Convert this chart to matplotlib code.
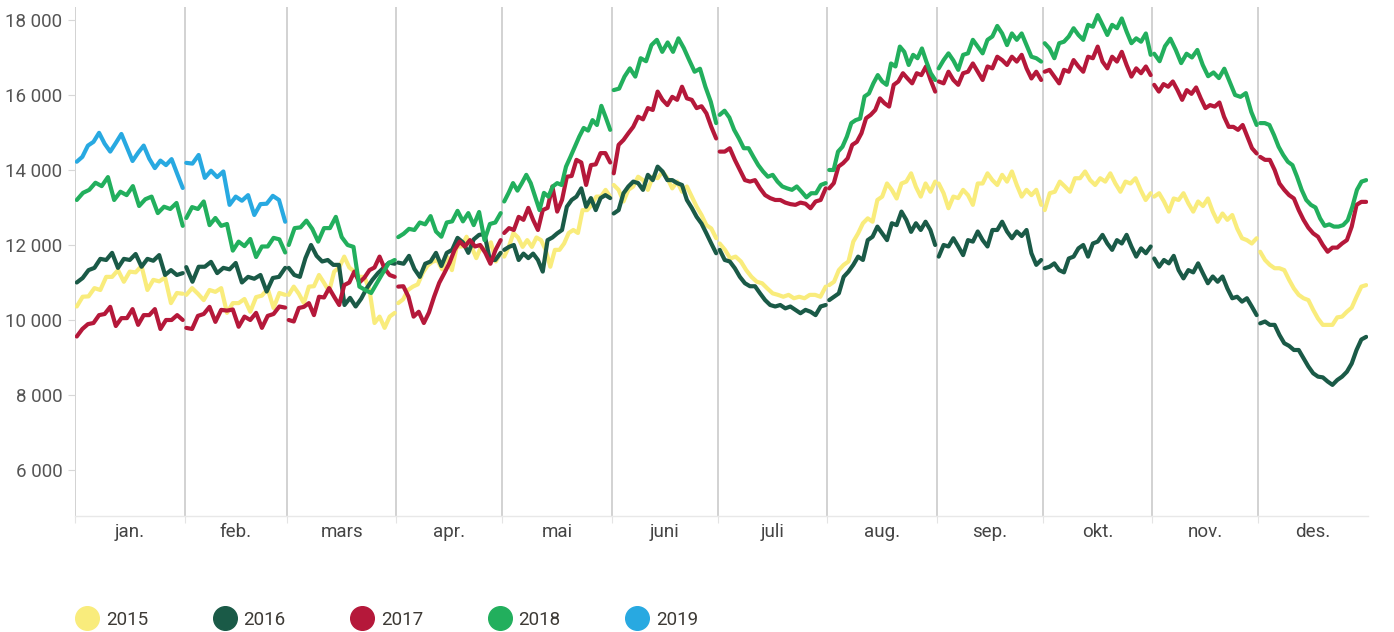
import numpy as np
import matplotlib
matplotlib.use('Agg')
import matplotlib.pyplot as plt
from matplotlib.lines import Line2D

plt.rcParams['font.family'] = ['Roboto', 'DejaVu Sans']

months = ['jan.', 'feb.', 'mars', 'apr.', 'mai', 'juni', 'juli', 'aug.',
          'sep.', 'okt.', 'nov.', 'des.']
month_days = [31, 29, 31, 30, 31, 30, 31, 31, 30, 31, 30, 31]
years = ['2015', '2016', '2017', '2018', '2019']
colors = ['#F9EC7C', '#1A5A47', '#B5183A', '#22AF5D', '#28A9E1']
yticks = [6000, 8000, 10000, 12000, 14000, 16000, 18000]

# values in thousands, one list per month
y2015 = [
    [10.36, 10.62, 10.63, 10.85, 10.8, 11.15, 11.15, 11.33, 11.02, 11.29, 11.27, 11.44, 10.8, 11.07, 11.03, 11.13, 10.45, 10.72, 10.7],
    [10.67, 10.85, 10.7, 10.53, 10.8, 10.75, 10.85, 10.19, 10.45, 10.45, 10.56, 10.22, 10.61, 10.65, 10.83, 10.32, 10.72, 10.67],
    [10.67, 10.89, 10.7, 10.45, 10.89, 10.9, 11.2, 10.99, 10.76, 11.29, 11.4, 11.69, 11.4, 11.29, 11.15, 11.15, 10.8, 9.92, 10.09, 9.79, 10.09, 10.19],
    [10.45, 10.55, 10.8, 10.89, 10.95, 11.25, 11.45, 11.55, 11.6, 11.35, 11.69, 11.33, 11.96, 11.96, 12.22, 11.96, 11.65, 11.96, 11.85, 12.07, 11.56, 11.79],
    [11.69, 11.95, 12.32, 12.2, 11.95, 12.13, 11.95, 12.2, 12.13, 11.87, 11.42, 11.87, 11.87, 12.04, 12.32, 12.4, 12.32, 12.93, 12.93, 13.07, 13.29, 13.29, 13.47, 13.29],
    [13.6, 13.47, 13.16, 13.47, 13.56, 13.82, 13.73, 13.47, 13.82, 13.78, 13.96, 13.78, 13.51, 13.69, 13.42, 13.56, 13.29, 13.02, 12.8, 12.53, 12.44, 12.18],
    [12.04, 11.87, 11.64, 11.69, 11.56, 11.33, 11.15, 11.02, 10.98, 10.84, 10.71, 10.67, 10.62, 10.67, 10.58, 10.62, 10.58, 10.67, 10.67, 10.62, 10.89],
    [10.93, 11.02, 11.33, 11.47, 11.56, 12.09, 12.31, 12.58, 12.71, 12.62, 13.2, 13.29, 13.64, 13.47, 13.24, 13.64, 13.69, 13.91, 13.55, 13.29, 13.64, 13.42, 13.69],
    [13.64, 13.38, 12.98, 13.29, 13.25, 13.47, 13.33, 13.07, 13.64, 13.64, 13.91, 13.73, 13.6, 13.87, 13.69, 13.96, 13.6, 13.29, 13.47, 13.33, 13.47, 13.07],
    [12.93, 13.38, 13.42, 13.69, 13.56, 13.42, 13.78, 13.78, 13.96, 13.73, 13.6, 13.78, 13.69, 13.91, 13.64, 13.42, 13.69, 13.64, 13.78, 13.47, 13.2, 13.38],
    [13.29, 13.38, 13.16, 12.89, 13.24, 13.2, 13.38, 13.11, 12.89, 13.16, 13.04, 13.24, 12.89, 12.62, 12.84, 12.67, 12.8, 12.44, 12.18, 12.13, 12.04, 12.18],
    [11.82, 11.6, 11.47, 11.38, 11.38, 11.33, 11.07, 10.84, 10.67, 10.58, 10.53, 10.27, 10.04, 9.87, 9.87, 9.87, 10.07, 10.09, 10.22, 10.33, 10.62, 10.89, 10.93],
]
y2016 = [
    [11.0, 11.12, 11.33, 11.39, 11.63, 11.6, 11.79, 11.39, 11.63, 11.6, 11.76, 11.42, 11.63, 11.58, 11.73, 11.2, 11.33, 11.2, 11.25],
    [11.41, 11.02, 11.42, 11.42, 11.55, 11.25, 11.39, 11.35, 11.52, 11.0, 11.15, 11.1, 11.2, 10.76, 11.12, 11.15, 11.39],
    [11.39, 11.2, 11.15, 11.65, 12.0, 11.71, 11.56, 11.6, 11.47, 11.47, 10.4, 10.59, 10.36, 10.57, 10.85, 11.07, 11.25, 11.39, 11.53, 11.5],
    [11.53, 11.5, 11.71, 11.36, 11.15, 11.5, 11.56, 11.79, 11.44, 11.79, 11.87, 12.19, 12.07, 11.79, 12.15, 12.27, 12.29, 11.6, 11.6, 11.79],
    [11.87, 11.95, 12.0, 11.6, 11.77, 11.65, 11.77, 11.6, 11.29, 12.13, 12.2, 12.31, 12.4, 13.02, 13.2, 13.29, 13.51, 13.02, 13.25, 12.93, 13.25, 13.33, 13.25],
    [12.84, 12.93, 13.38, 13.56, 13.69, 13.65, 13.47, 13.87, 13.73, 14.09, 13.96, 13.73, 13.73, 13.65, 13.6, 13.2, 12.99, 12.75, 12.57, 12.31, 12.04, 11.78],
    [11.87, 11.6, 11.56, 11.38, 11.15, 10.98, 10.9, 10.9, 10.71, 10.53, 10.4, 10.36, 10.4, 10.31, 10.36, 10.27, 10.18, 10.27, 10.22, 10.13, 10.36, 10.4],
    [10.53, 10.62, 10.71, 11.15, 11.29, 11.47, 11.69, 11.6, 12.13, 12.22, 12.49, 12.31, 12.13, 12.58, 12.53, 12.89, 12.67, 12.35, 12.58, 12.4, 12.62, 12.4, 12.0],
    [11.69, 12.0, 11.96, 12.18, 11.96, 11.73, 12.13, 12.09, 12.36, 12.13, 11.96, 12.4, 12.4, 12.62, 12.36, 12.18, 12.36, 12.24, 12.4, 11.78, 11.47, 11.6],
    [11.38, 11.42, 11.51, 11.33, 11.27, 11.64, 11.69, 11.91, 12.0, 11.69, 12.04, 12.09, 12.27, 12.04, 11.87, 12.13, 12.04, 12.27, 11.96, 11.69, 11.91, 11.78, 11.96],
    [11.64, 11.42, 11.6, 11.51, 11.71, 11.33, 11.11, 11.33, 11.27, 11.51, 11.24, 10.98, 11.16, 11.02, 11.16, 10.84, 10.58, 10.62, 10.49, 10.58, 10.36, 10.13],
    [9.91, 9.96, 9.87, 9.87, 9.6, 9.38, 9.31, 9.2, 9.2, 8.98, 8.76, 8.58, 8.49, 8.47, 8.36, 8.27, 8.4, 8.49, 8.62, 8.84, 9.2, 9.48, 9.55],
]
y2017 = [
    [9.56, 9.76, 9.89, 9.92, 10.13, 10.16, 10.35, 9.84, 10.05, 10.05, 10.29, 9.87, 10.13, 10.13, 10.29, 9.76, 10.0, 10.0, 10.13, 10.0],
    [9.79, 9.76, 10.11, 10.16, 10.35, 9.95, 10.27, 10.25, 10.28, 9.82, 10.09, 10.0, 10.19, 9.79, 10.11, 10.16, 10.36, 10.33],
    [10.0, 9.96, 10.32, 10.35, 10.45, 10.13, 10.62, 10.6, 10.85, 10.62, 10.4, 10.93, 11.0, 11.29, 11.0, 11.13, 11.33, 11.4, 11.69, 11.37, 11.2, 11.15],
    [10.89, 10.9, 10.62, 10.09, 10.22, 9.92, 10.2, 10.62, 10.99, 11.25, 11.52, 11.87, 12.09, 11.96, 12.13, 11.96, 12.0, 11.79, 11.5, 11.87, 12.13],
    [12.32, 12.45, 12.4, 12.75, 12.67, 12.99, 12.67, 12.4, 12.93, 12.99, 13.56, 12.89, 13.2, 13.82, 13.84, 14.27, 14.2, 13.6, 14.13, 14.15, 14.45, 14.45, 14.2],
    [13.91, 14.67, 14.8, 14.98, 15.15, 15.42, 15.35, 15.65, 15.6, 16.09, 15.87, 15.73, 15.95, 15.87, 16.22, 15.91, 15.87, 15.65, 15.7, 15.51, 15.15, 14.84],
    [14.49, 14.49, 14.58, 14.27, 14.0, 13.73, 13.69, 13.73, 13.51, 13.33, 13.25, 13.2, 13.2, 13.13, 13.09, 13.07, 13.13, 13.1, 12.98, 13.16, 13.2, 13.51],
    [13.51, 13.65, 14.09, 14.18, 14.31, 14.67, 14.75, 14.98, 15.38, 15.47, 15.6, 15.91, 15.78, 15.69, 16.27, 16.36, 16.58, 16.44, 16.31, 16.58, 16.53, 16.76, 16.4, 16.09],
    [16.36, 16.31, 16.62, 16.4, 16.27, 16.58, 16.62, 16.84, 16.62, 16.4, 16.76, 16.71, 17.02, 16.93, 16.8, 17.02, 16.89, 17.07, 16.71, 16.44, 16.62, 16.4],
    [16.62, 16.67, 16.49, 16.31, 16.67, 16.62, 16.93, 16.76, 16.62, 17.02, 16.98, 17.29, 16.89, 16.71, 17.02, 16.89, 17.15, 16.8, 16.49, 16.71, 16.58, 16.76, 16.53],
    [16.27, 16.09, 16.29, 16.22, 16.36, 16.13, 15.87, 16.13, 16.03, 16.2, 15.91, 15.65, 15.73, 15.69, 15.8, 15.42, 15.15, 15.15, 15.07, 15.2, 14.89, 14.58, 14.44],
    [14.35, 14.27, 14.27, 14.0, 13.64, 13.47, 13.33, 13.24, 12.93, 12.67, 12.46, 12.31, 12.22, 12.0, 11.82, 11.93, 11.93, 12.04, 12.13, 12.49, 13.07, 13.15, 13.15],
]
y2018 = [
    [13.2, 13.39, 13.47, 13.66, 13.57, 13.81, 13.2, 13.42, 13.33, 13.57, 13.04, 13.22, 13.29, 12.85, 13.02, 12.96, 13.12, 12.51],
    [12.72, 13.01, 12.96, 13.16, 12.53, 12.72, 12.51, 12.56, 11.85, 12.09, 11.97, 12.16, 11.68, 11.96, 11.96, 12.19, 12.15, 11.8],
    [12.0, 12.45, 12.47, 12.65, 12.43, 12.09, 12.45, 12.45, 12.75, 12.21, 12.0, 11.95, 10.89, 10.8, 10.72, 10.99, 11.26, 11.52, 11.6],
    [12.21, 12.3, 12.43, 12.4, 12.6, 12.55, 12.77, 12.36, 12.22, 12.6, 12.63, 12.91, 12.63, 12.85, 12.53, 12.88, 12.13, 12.56, 12.6, 12.85],
    [13.16, 13.39, 13.65, 13.45, 13.65, 13.87, 13.65, 13.29, 12.93, 13.39, 13.29, 13.56, 13.65, 13.6, 14.09, 14.35, 14.62, 14.89, 15.12, 15.05, 15.33, 15.2, 15.71, 15.4, 15.07],
    [16.13, 16.17, 16.49, 16.71, 16.49, 16.98, 16.9, 17.33, 17.47, 17.15, 17.4, 17.15, 17.51, 17.25, 16.93, 16.62, 16.7, 16.22, 15.82, 15.25],
    [15.47, 15.58, 15.4, 15.07, 14.84, 14.58, 14.58, 14.35, 14.13, 13.96, 13.82, 13.87, 13.69, 13.56, 13.51, 13.47, 13.56, 13.42, 13.27, 13.38, 13.38, 13.6, 13.65],
    [14.0, 14.0, 14.49, 14.62, 14.89, 15.25, 15.33, 15.37, 15.96, 16.04, 16.31, 16.53, 16.36, 16.27, 16.84, 16.76, 17.29, 17.15, 16.8, 17.07, 16.98, 17.24, 16.89, 16.58, 16.4],
    [16.71, 16.93, 17.11, 16.92, 16.67, 17.07, 17.11, 17.47, 17.29, 17.11, 17.47, 17.56, 17.84, 17.64, 17.33, 17.64, 17.47, 17.64, 17.33, 17.02, 16.98, 16.89],
    [17.38, 17.24, 16.98, 17.38, 17.42, 17.56, 17.78, 17.6, 17.47, 17.87, 17.82, 18.13, 17.87, 17.6, 17.87, 17.78, 18.04, 17.69, 17.38, 17.51, 17.42, 17.64, 17.07],
    [17.1, 16.9, 17.3, 17.5, 17.2, 16.85, 17.1, 17.0, 17.2, 16.8, 16.5, 16.6, 16.45, 16.7, 16.35, 16.0, 15.95, 16.05, 15.55, 15.2],
    [15.25, 15.25, 15.2, 14.93, 14.62, 14.4, 14.22, 14.13, 13.82, 13.47, 13.2, 13.07, 13.0, 12.71, 12.51, 12.55, 12.49, 12.49, 12.53, 12.66, 13.02, 13.47, 13.69, 13.73],
]
y2019 = [
    [14.22, 14.35, 14.65, 14.75, 14.99, 14.7, 14.49, 14.72, 14.96, 14.6, 14.24, 14.46, 14.65, 14.3, 14.05, 14.25, 14.13, 14.29, 13.9, 13.52],
    [14.19, 14.17, 14.4, 13.79, 13.98, 13.81, 13.96, 13.07, 13.29, 13.18, 13.33, 12.8, 13.09, 13.1, 13.31, 13.2, 12.62],
]
series = [y2015, y2016, y2017, y2018, y2019]

fig = plt.figure(figsize=(13.94, 6.32), dpi=100)
ax = fig.add_axes([0.0538, 0.1835, 0.9275, 0.8055])

starts = np.concatenate([[0], np.cumsum(month_days)[:-1]])
for year_vals, col, z in zip(series, colors, [2, 3, 4, 5, 6]):
    for m, vals in enumerate(year_vals):
        x = starts[m] + 0.5 + np.linspace(0, month_days[m] - 1, len(vals))
        ax.plot(x, np.array(vals) * 1000, color=col, lw=3.0,
                solid_joinstyle='round', solid_capstyle='round', zorder=z)

for s in starts:
    ax.axvline(s, color='#cfcfcf', lw=1.3, zorder=1)

ax.set_xlim(0, sum(month_days))
ax.set_ylim(4773, 18347)
for side in ['top', 'right', 'left']:
    ax.spines[side].set_visible(False)
ax.spines['bottom'].set_color('#e8e8e8')
ax.spines['bottom'].set_linewidth(1.0)

ax.set_yticks(yticks)
ax.set_yticklabels([f'{v:,}'.replace(',', ' ') for v in yticks])
ax.tick_params(axis='y', length=5, color='#d8d8d8', labelsize=13.5,
               labelcolor='#555555', pad=4)

ax.set_xticks(starts)
ax.set_xticklabels([])
ax.set_xticks(starts + np.array(month_days) / 2, minor=True)
ax.set_xticklabels(months, minor=True)
ax.tick_params(axis='x', which='major', length=5, color='#e4e4e4')
ax.tick_params(axis='x', which='minor', length=0, labelsize=13.5,
               labelcolor='#444444', pad=5)

handles = [Line2D([], [], marker='o', ls='', ms=17, color=c) for c in colors]
fig.legend(handles, years, loc='center left', bbox_to_anchor=(0.0438, 0.019),
           ncol=5, frameon=False, fontsize=13.5, handlelength=1.0,
           handletextpad=0.5, columnspacing=3.58, labelcolor='#3d3a35')

plt.savefig('out.png', dpi=100)
